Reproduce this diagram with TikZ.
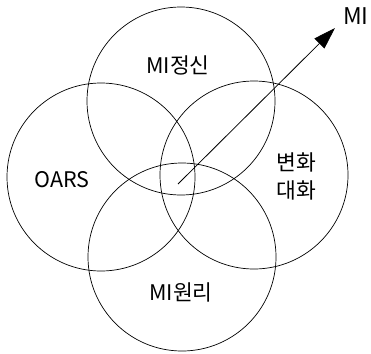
\documentclass[tikz,border=0pt]{standalone}
\usepackage{fontspec}
\setmainfont{Noto Sans CJK KR}
\usepackage{tikz}
\usetikzlibrary{arrows.meta}

\begin{document}
\begin{tikzpicture}[
  x=1pt,y=-1pt,
  every node/.style={font=\fontsize{21.5}{28}\selectfont},
  ring/.style={circle,draw=black,line width=0.7pt,minimum size=188pt,inner sep=0pt},
  label/.style={align=center,inner sep=0pt},
  arrow/.style={-{Triangle[length=22pt,width=14pt]},line width=0.8pt,color=black}
]
\useasboundingbox (0,0) rectangle (371,353);

\node[ring] (spirit) at (181,101) {};
\node[ring] (oars) at (101,177) {};
\node[ring] (talk) at (254,175) {};
\node[ring] (principle) at (182,257) {};

\node[label] (spiritlbl) at (178,65) {MI정신};
\node[label] (oarslbl) at (62,180) {OARS};
\node[label] (talklbl) at (296,176) {변화\\대화};
\node[label] (principlelbl) at (181,292) {MI원리};
\node[label,font=\fontsize{23}{28}\selectfont] (mi) at (356,16) {MI};

\coordinate (core) at (178,184);
\coordinate (tip) at (335,28);
\draw[arrow] (core) -- (tip);
\end{tikzpicture}
\end{document}
